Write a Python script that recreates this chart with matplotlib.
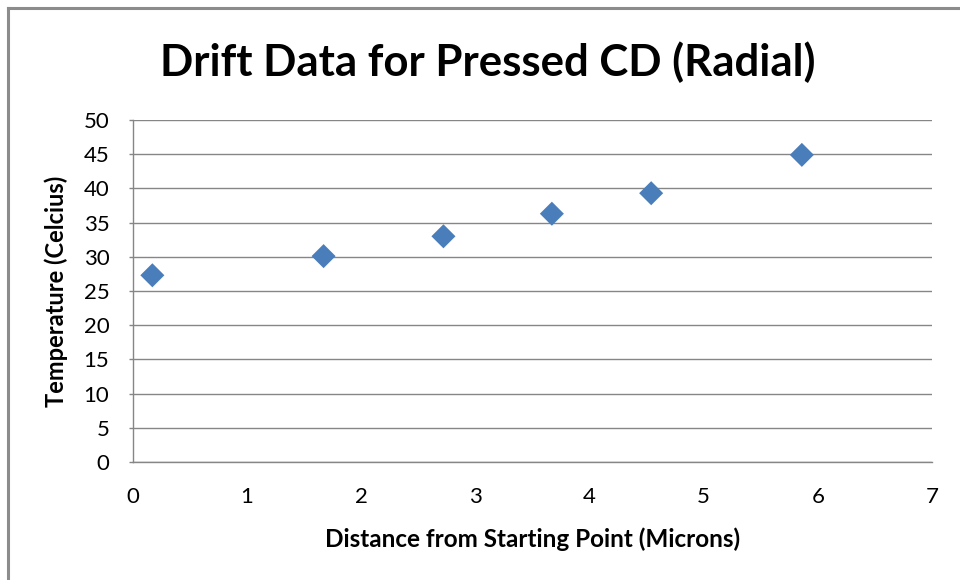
import matplotlib.pyplot as plt
from matplotlib.lines import Line2D

plt.rcParams['font.family'] = ['Lato', 'DejaVu Sans']

# Measured drift points
distance_um = [0.17, 1.67, 2.72, 3.67, 4.54, 5.86]
temperature_c = [27.3, 30.1, 33.0, 36.3, 39.3, 44.9]

x_ticks = list(range(0, 8))
y_ticks = list(range(0, 55, 5))

fig = plt.figure(figsize=(9.6, 5.8), dpi=100)
ax = fig.add_axes([0.1385, 0.2034, 0.9708 - 0.1385, 0.7931 - 0.2034])

ax.scatter(distance_um, temperature_c, marker='D', s=150, color='#4A7EBB',
           edgecolors='none', zorder=3, clip_on=False)

ax.set_xlim(0, 7)
ax.set_ylim(0, 50)
ax.set_xticks(x_ticks)
ax.set_yticks(y_ticks)
ax.tick_params(axis='x', length=0, labelsize=16, pad=18, colors='#000000')
ax.tick_params(axis='y', length=3, width=1, color='#868686', labelsize=16, pad=14)

ax.grid(axis='y', color='#868686', linewidth=1)
ax.set_axisbelow(True)
for side in ['top', 'right']:
    ax.spines[side].set_visible(False)
for side in ['left', 'bottom']:
    ax.spines[side].set_color('#868686')
    ax.spines[side].set_linewidth(1)

ax.set_xlabel('Distance from Starting Point (Microns)', fontsize=17.5,
              fontweight='bold', labelpad=15)
ax.set_ylabel('Temperature (Celcius)', fontsize=17, fontweight='bold', labelpad=11)

fig.text(0.508, 0.893, 'Drift Data for Pressed CD (Radial)', fontsize=31.5,
         fontweight='bold', ha='center', va='center')

# chart area border (left and top edges)
fig.add_artist(Line2D([7.5 / 960, 7.5 / 960], [0, 1 - 7.5 / 580],
                      transform=fig.transFigure, color='#8c8c8c', linewidth=2.2))
fig.add_artist(Line2D([7.5 / 960, 1], [1 - 7.5 / 580, 1 - 7.5 / 580],
                      transform=fig.transFigure, color='#8c8c8c', linewidth=2.2))

fig.savefig('out.png', dpi=100)
